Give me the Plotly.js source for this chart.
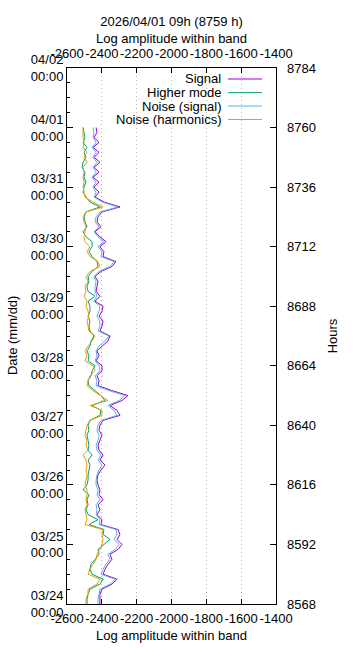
<!DOCTYPE html>
<html>
<head>
<meta charset="utf-8">
<script src="https://cdn.plot.ly/plotly-3.0.1.min.js"></script>
<style>html,body{margin:0;padding:0;background:#fff;}#chart{width:360px;height:648px;}</style>
</head>
<body>
<div id="chart"></div>
<script>
// Hours since start of year (2-hour samples)
const hours = [8568,8570,8572,8574,8576,8578,8580,8582,8584,8586,
  8588,8590,8592,8594,8596,8598,8600,8602,8604,8606,
  8608,8610,8612,8614,8616,8618,8620,8622,8624,8626,
  8628,8630,8632,8634,8636,8638,8640,8642,8644,8646,
  8648,8650,8652,8654,8656,8658,8660,8662,8664,8666,
  8668,8670,8672,8674,8676,8678,8680,8682,8684,8686,
  8688,8690,8692,8694,8696,8698,8700,8702,8704,8706,
  8708,8710,8712,8714,8716,8718,8720,8722,8724,8726,
  8728,8730,8732,8734,8736,8738,8740,8742,8744,8746,
  8748,8750,8752,8754,8756,8758,8760];

const signal = [-2411,-2411,-2411,-2399,-2342,-2313,-2393,-2382,-2365,-2342,
  -2353,-2307,-2284,-2313,-2296,-2307,-2405,-2399,-2428,-2411,
  -2422,-2393,-2416,-2411,-2422,-2428,-2422,-2405,-2382,-2411,
  -2393,-2416,-2422,-2411,-2399,-2416,-2411,-2393,-2296,-2313,
  -2353,-2284,-2250,-2342,-2422,-2416,-2428,-2399,-2399,-2433,
  -2416,-2428,-2399,-2365,-2353,-2411,-2399,-2393,-2416,-2399,
  -2393,-2439,-2411,-2433,-2428,-2422,-2439,-2405,-2342,-2319,
  -2393,-2388,-2411,-2376,-2411,-2439,-2405,-2428,-2422,-2399,
  -2296,-2388,-2439,-2416,-2445,-2416,-2451,-2416,-2445,-2411,
  -2445,-2416,-2451,-2416,-2445,-2428,-2433];

const higherMode = [-2485,-2485,-2479,-2468,-2411,-2393,-2456,-2468,-2462,-2439,
  -2416,-2422,-2388,-2353,-2393,-2388,-2474,-2422,-2479,-2491,
  -2479,-2485,-2474,-2508,-2485,-2479,-2479,-2474,-2468,-2479,
  -2456,-2479,-2474,-2479,-2485,-2474,-2479,-2468,-2411,-2405,
  -2456,-2382,-2405,-2439,-2474,-2479,-2462,-2456,-2439,-2479,
  -2474,-2485,-2468,-2462,-2445,-2468,-2474,-2468,-2479,-2468,
  -2468,-2479,-2439,-2479,-2485,-2474,-2479,-2456,-2422,-2428,
  -2456,-2474,-2456,-2456,-2491,-2508,-2485,-2497,-2502,-2491,
  -2411,-2468,-2491,-2508,-2502,-2491,-2502,-2497,-2514,-2508,
  -2491,-2502,-2485,-2508,-2497,-2502,-2508];

const noiseSignal = [-2422,-2422,-2416,-2411,-2353,-2324,-2405,-2393,-2376,-2353,
  -2365,-2324,-2301,-2330,-2313,-2319,-2416,-2411,-2433,-2428,
  -2433,-2411,-2428,-2422,-2433,-2433,-2428,-2416,-2399,-2422,
  -2405,-2428,-2433,-2422,-2416,-2428,-2422,-2405,-2313,-2330,
  -2365,-2301,-2267,-2359,-2433,-2428,-2439,-2411,-2416,-2439,
  -2428,-2433,-2416,-2382,-2359,-2422,-2411,-2411,-2428,-2416,
  -2411,-2445,-2428,-2439,-2439,-2433,-2445,-2416,-2353,-2330,
  -2405,-2399,-2422,-2388,-2422,-2445,-2416,-2439,-2433,-2411,
  -2307,-2399,-2445,-2433,-2451,-2433,-2456,-2433,-2451,-2428,
  -2451,-2433,-2456,-2433,-2451,-2445,-2451];

const noiseHarmonics = [-2491,-2491,-2479,-2479,-2428,-2411,-2479,-2468,-2451,-2433,
  -2428,-2411,-2399,-2393,-2399,-2393,-2497,-2485,-2491,-2497,
  -2485,-2491,-2485,-2485,-2497,-2491,-2485,-2491,-2485,-2491,
  -2508,-2479,-2491,-2485,-2497,-2491,-2485,-2468,-2399,-2399,
  -2468,-2365,-2411,-2451,-2485,-2479,-2468,-2439,-2451,-2497,
  -2485,-2497,-2479,-2456,-2439,-2474,-2479,-2485,-2474,-2479,
  -2491,-2485,-2502,-2491,-2497,-2479,-2491,-2468,-2411,-2422,
  -2468,-2485,-2468,-2497,-2502,-2497,-2491,-2502,-2508,-2491,
  -2393,-2451,-2497,-2502,-2508,-2502,-2508,-2502,-2508,-2485,
  -2502,-2485,-2508,-2502,-2508,-2508,-2508];

const seriesNames = ["Signal", "Higher mode", "Noise (signal)", "Noise (harmonics)"];
const seriesColors = ["#9400D3", "#009E73", "#56B4E9", "#E69F00"];

const xTicks = [-2600,-2400,-2200,-2000,-1800,-1600,-1400];
const xTickText = ["-2600","-2400","-2200","-2000","-1800","-1600","-1400"];
const dateTickVals = [8568,8592,8616,8640,8664,8688,8712,8736,8760,8784];
const dateTickText = ["03/24<br>00:00","03/25<br>00:00","03/26<br>00:00","03/27<br>00:00",
  "03/28<br>00:00","03/29<br>00:00","03/30<br>00:00","03/31<br>00:00",
  "04/01<br>00:00","04/02<br>00:00"];
const hourTicks = [8568,8592,8616,8640,8664,8688,8712,8736,8760,8784];

const allSeries = [signal, higherMode, noiseSignal, noiseHarmonics];
const traces = allSeries.map((s, k) => ({
  type: "scatter", mode: "lines",
  x: s, y: hours, name: seriesNames[k],
  line: {color: seriesColors[k], width: 1},
  xaxis: "x", yaxis: "y", showlegend: false, hoverinfo: "skip"
}));
// helper trace to activate top x axis and right y axis
traces.push({type:"scatter", mode:"none", x:[xTicks[0]], y:[hourTicks[0]], xaxis:"x2", yaxis:"y2", showlegend:false, hoverinfo:"skip"});

const font = {family: "Liberation Sans, Arial, sans-serif", size: 13, color: "#000"};

// legend built as text + line samples (gnuplot style: text then sample)
const legY = [0.9795, 0.954, 0.929, 0.904];
const annotations = seriesNames.map((n, k) => ({
  text: n, xref: "paper", yref: "paper", x: 0.745, y: legY[k],
  xanchor: "right", yanchor: "middle", showarrow: false, font: font
}));
annotations.push({text: "2026/04/01 09h (8759 h)<br>Log amplitude within band",
  xref: "paper", yref: "paper", x: 0.5, y: 1.071, xanchor: "center", yanchor: "middle",
  showarrow: false, font: font});
annotations.push({text: "Date (mm/dd)", xref: "paper", yref: "paper", x: -0.263, y: 0.5,
  xanchor: "center", yanchor: "middle", textangle: -90, showarrow: false, font: font});
const shapes = seriesNames.map((n, k) => ({
  type: "line", xref: "paper", yref: "paper", x0: 0.770, x1: 0.933, y0: legY[k], y1: legY[k],
  line: {color: seriesColors[k], width: 1}
}));

const rng = [-2600, -1400];
const yr = [8568, 8784];
const layout = {
  width: 360, height: 648,
  margin: {l: 67, r: 84, t: 68, b: 44, pad: 0},
  paper_bgcolor: "#fff", plot_bgcolor: "#fff",
  font: font,
  xaxis: {range: rng, tickmode: "array", tickvals: xTicks, ticktext: xTickText, tickangle: 0,
    ticks: "inside", ticklen: 5, ticklabelstandoff: 2,
    tickcolor: "#000", showline: true, linecolor: "#000", linewidth: 1, mirror: "ticks",
    showgrid: true, gridcolor: "#b8b8b8", griddash: "1px,3px", gridwidth: 1, zeroline: false,
    tickfont: font, title: {text: "Log amplitude within band", font: font, standoff: 6}},
  xaxis2: {range: rng, overlaying: "x", side: "top", tickmode: "array", tickvals: xTicks,
    ticktext: xTickText, tickangle: 0, ticklabelstandoff: 6,
    ticks: "", showline: false, showgrid: false, zeroline: false, tickfont: font},
  yaxis: {range: yr, tickmode: "array", tickvals: dateTickVals, ticktext: dateTickText,
    ticks: "inside", ticklen: 6, tickcolor: "#000", showline: true, linecolor: "#000",
    linewidth: 1, mirror: true, showgrid: false, zeroline: false, tickfont: font,
    minor: {tickmode: "linear", tick0: 8568, dtick: 6, ticks: "inside", ticklen: 3, tickcolor: "#000", showgrid: false}},
  yaxis2: {range: yr, overlaying: "y", side: "right", tickmode: "array", tickvals: hourTicks,
    ticks: "inside", ticklen: 6, tickcolor: "#000", showline: false, showgrid: false,
    ticklabelstandoff: 10,
    zeroline: false, tickfont: font, title: {text: "Hours", font: font, standoff: 12}},
  annotations: annotations,
  shapes: shapes
};

Plotly.newPlot("chart", traces, layout, {staticPlot: true, displayModeBar: false});
</script>
</body>
</html>
